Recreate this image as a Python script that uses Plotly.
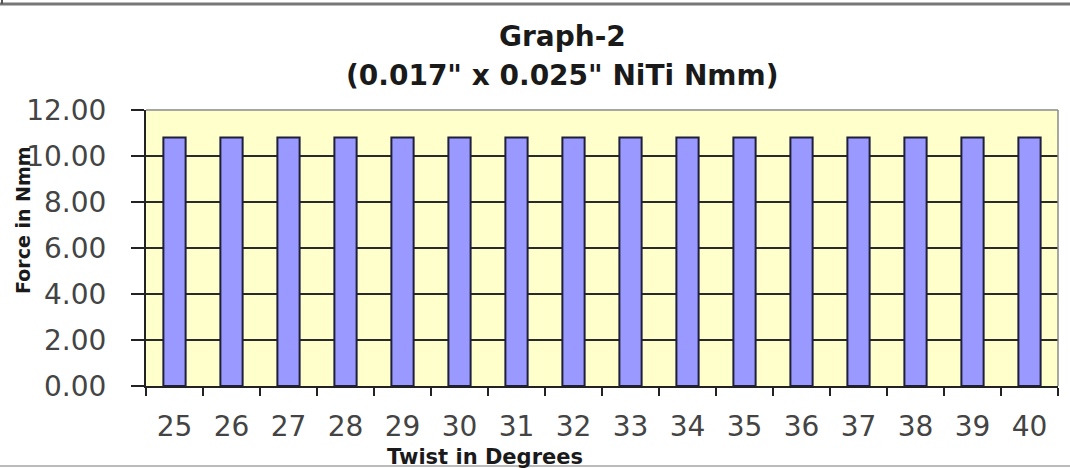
import plotly.graph_objects as go

# Twist angle (degrees) and corresponding force (Nmm)
twist_degrees = [25, 26, 27, 28, 29, 30, 31, 32, 33, 34, 35, 36, 37, 38, 39, 40]
force_nmm = [10.8] * 16
y_ticks = [0, 2, 4, 6, 8, 10, 12]
y_tick_labels = ["0.00", "2.00", "4.00", "6.00", "8.00", "10.00", "12.00"]

FONT = "DejaVu Sans, Liberation Sans, Arial, sans-serif"

W, H = 1070, 468
L, R, T, B = 146, 12, 110, 82
plot_w = W - L - R
plot_h = H - T - B


def px_x(x):
    return (x - L) / plot_w


def px_y(y):
    return (H - B - y) / plot_h


fig = go.Figure(
    go.Bar(
        x=[str(d) for d in twist_degrees],
        y=force_nmm,
        marker=dict(color="#9999FF", line=dict(color="#1f1f3a", width=2)),
    )
)

fig.update_layout(
    width=W,
    height=H,
    margin=dict(l=L, r=R, t=T, b=B),
    paper_bgcolor="white",
    plot_bgcolor="#FFFFCC",
    bargap=0.61,
    showlegend=False,
    font=dict(family=FONT),
    xaxis=dict(
        type="category",
        showgrid=False,
        showline=True,
        linecolor="#222",
        linewidth=2,
        ticks="outside",
        tickson="boundaries",
        ticklen=8,
        tickwidth=2,
        tickcolor="#222",
        tickfont=dict(size=28, color="#444", family=FONT),
        ticklabelstandoff=14,
    ),
    yaxis=dict(
        range=[0, 12],
        tickvals=y_ticks,
        ticktext=y_tick_labels,
        showgrid=True,
        gridcolor="#2a2a2a",
        gridwidth=2,
        zeroline=False,
        showline=True,
        linecolor="#222",
        linewidth=2,
        ticks="outside",
        ticklen=13,
        tickwidth=2,
        tickcolor="#222",
        tickfont=dict(size=28, color="#444", family=FONT),
        ticklabelstandoff=19,
    ),
)

# Titles placed in pixel positions
titles = [
    ("<b>Graph-2</b>", 562, 37, 28, 0),
    ("<b>(0.017\" x 0.025\" NiTi Nmm)</b>", 562, 75, 28, 0),
    ("<b>Twist in Degrees</b>", 485, 457, 21, 0),
    ("<b>Force in Nmm</b>", 23, 220, 19, -90),
]
for text, x, y, size, angle in titles:
    fig.add_annotation(
        text=text, x=px_x(x), y=px_y(y), xref="paper", yref="paper",
        xanchor="center", yanchor="middle", textangle=angle, showarrow=False,
        font=dict(size=size, color="#1a1a1a", family=FONT),
    )

# Grey frame on the top and right of the plot area
fig.add_shape(type="line", xref="paper", yref="paper", x0=0, x1=1, y0=1, y1=1,
              line=dict(color="#8a8a8a", width=1.5))
fig.add_shape(type="line", xref="paper", yref="paper", x0=1, x1=1, y0=0, y1=1,
              line=dict(color="#8a8a8a", width=1.5))

# Page rules above and below the chart
fig.add_shape(type="line", xref="paper", yref="paper", x0=px_x(0), x1=px_x(W),
              y0=px_y(4), y1=px_y(4), line=dict(color="#777", width=3))
fig.add_shape(type="line", xref="paper", yref="paper", x0=px_x(2), x1=px_x(2),
              y0=px_y(0), y1=px_y(4), line=dict(color="#555", width=2))
fig.add_shape(type="line", xref="paper", yref="paper", x0=px_x(0), x1=px_x(W),
              y0=px_y(466), y1=px_y(466), line=dict(color="#bbb", width=2))

fig.write_html("out.html")
